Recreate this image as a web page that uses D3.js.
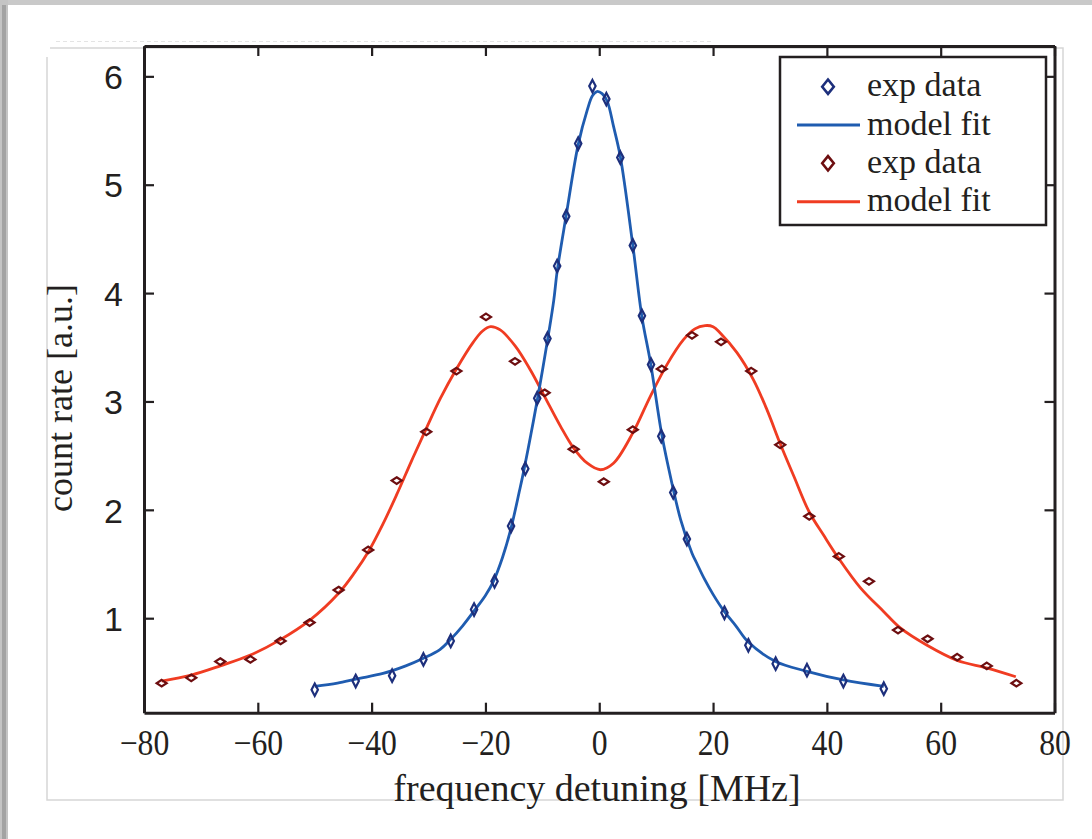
<!DOCTYPE html>
<html>
<head>
<meta charset="utf-8">
<script src="https://cdn.jsdelivr.net/npm/d3@7"></script>
<style>
  html, body { margin: 0; padding: 0; background: #fff; }
  svg { display: block; }
</style>
</head>
<body>
<div id="chart"></div>
<script>
// measured data, blue = narrow resonance, red = split resonance
var expX1 = [-50.0, -42.8, -36.4, -30.9, -26.1, -22.0, -18.4, -15.5, -13.0, -10.9, -9.1, -7.4, -5.8, -3.7, -1.2,
  1.25, 3.7, 5.9, 7.5, 9.1, 10.9, 13.0, 15.4, 22.0, 26.2, 31.0, 36.5, 42.9, 50.0];
var expY1 = [0.34, 0.42, 0.47, 0.62, 0.79, 1.08, 1.34, 1.85, 2.38, 3.03, 3.58, 4.25, 4.71, 5.38, 5.91,
  5.79, 5.25, 4.44, 3.79, 3.34, 2.68, 2.16, 1.73, 1.05, 0.75, 0.58, 0.52, 0.42, 0.35];

var expX2 = [-76.9, -71.7, -66.6, -61.3, -56.0, -50.9, -45.8, -40.6, -35.6, -30.4, -25.1, -19.9, -14.8, -9.6, -4.5,
  0.8, 5.9, 11.0, 16.3, 21.4, 26.7, 31.8, 36.9, 42.1, 47.4, 52.5, 57.7, 62.9, 68.1, 73.3];
var expY2 = [0.40, 0.45, 0.60, 0.62, 0.79, 0.96, 1.26, 1.63, 2.27, 2.72, 3.28, 3.78, 3.37, 3.08, 2.56,
  2.26, 2.74, 3.30, 3.61, 3.55, 3.28, 2.60, 1.94, 1.57, 1.34, 0.89, 0.81, 0.64, 0.56, 0.40];

// fit curves
var fitX1 = [-50, -46, -42.6, -38, -34, -30.9, -28, -26.2, -24, -22.1, -20, -18.6, -17, -15.6, -14, -13.3, -12, -10.9,
  -9.2, -8, -7.4, -5.8, -3.7, -2.1, -1.2, -0.4, 0.5, 1.4, 2.5, 3.7, 5.9, 7.5, 9.0, 10.9, 12, 14.3, 16.3, 17.2,
  18.5, 20, 22, 24, 26.2, 31, 36.5, 42.9, 50];
var fitY1 = [0.37, 0.40, 0.44, 0.49, 0.56, 0.63, 0.71, 0.80, 0.93, 1.06, 1.21, 1.34, 1.56, 1.81, 2.18, 2.35, 2.70, 3.01,
  3.53, 3.93, 4.20, 4.72, 5.37, 5.69, 5.82, 5.86, 5.84, 5.77, 5.54, 5.26, 4.44, 3.78, 3.36, 2.72, 2.43, 1.91, 1.60, 1.50,
  1.36, 1.22, 1.06, 0.93, 0.78, 0.60, 0.51, 0.43, 0.37];

var fitX2 = [-76.9, -71.7, -66.6, -61.3, -56.1, -50.9, -45.8, -43, -40.5, -38, -35.6, -33, -30.4, -27.9, -25.1, -22.1,
  -20.5, -19.1, -17.4, -14.75, -12.1, -9.6, -6.8, -4.5, -2.1, 0.2, 2.5, 5.9, 9.0, 11.9, 14.8, 16.8, 18.6, 20, 21.3,
  24.2, 27.1, 29.5, 31.8, 34.2, 36.9, 39.5, 42.1, 45.9, 50.0, 52.9, 57.6, 62.9, 68.2, 73.2];
var fitY2 = [0.42, 0.475, 0.56, 0.66, 0.80, 0.98, 1.23, 1.42, 1.62, 1.87, 2.14, 2.45, 2.75, 3.03, 3.30, 3.55,
  3.65, 3.69, 3.66, 3.51, 3.29, 3.045, 2.77, 2.57, 2.43, 2.37, 2.43, 2.71, 3.05, 3.34, 3.57, 3.67, 3.70, 3.69, 3.63,
  3.45, 3.20, 2.92, 2.61, 2.31, 1.98, 1.76, 1.55, 1.28, 1.06, 0.91, 0.75, 0.61, 0.54, 0.46];

var xTicks = [-80, -60, -40, -20, 0, 20, 40, 60, 80];
var yTicks = [1, 2, 3, 4, 5, 6];
var legendLabels = ['exp data', 'model fit', 'exp data', 'model fit'];

var width = 1092;
var height = 839;
var margin = { top: 46, right: 37.5, bottom: 126.3, left: 144 };

var ink = '#231f20';
var blueLine = '#1f5cb0', blueMark = '#1d2f7c';
var redLine = '#f03c22', redMark = '#6d0e10';

var svg = d3.select('#chart')
  .append('svg')
  .attr('width', width)
  .attr('height', height);

// page decoration (scanned page edge + card)
svg.append('rect').attr('x', 0).attr('y', 0).attr('width', width).attr('height', 5).attr('fill', '#c9c9c9');
svg.append('rect').attr('x', 0).attr('y', 0).attr('width', 8).attr('height', height).attr('fill', '#c4c4c4');
svg.append('rect').attr('x', 2).attr('y', 5).attr('width', 4).attr('height', height).attr('fill', '#a3a3a3');
svg.append('line').attr('x1', 56).attr('x2', 714).attr('y1', 41.5).attr('y2', 41.5)
  .attr('stroke', '#e4e4e4').attr('stroke-dasharray', '4,3');
svg.append('path')
  .attr('d', 'M47,57 V800 H1063 V48 H50')
  .attr('fill', 'none').attr('stroke', '#d6d6d6').attr('stroke-width', 1.5);

var x = d3.scaleLinear()
  .domain([-80, 80])
  .range([margin.left, width - margin.right]);

var y = d3.scaleLinear()
  .domain([0.128, 6.28])
  .range([height - margin.bottom, margin.top]);

var line = d3.line()
  .x(d => x(d[0]))
  .y(d => y(d[1]))
  .curve(d3.curveCatmullRom.alpha(0.5));

svg.append('path')
  .datum(d3.zip(fitX2, fitY2))
  .attr('d', line)
  .attr('fill', 'none')
  .attr('stroke', redLine)
  .attr('stroke-width', 2.8);

svg.append('path')
  .datum(d3.zip(fitX1, fitY1))
  .attr('d', line)
  .attr('fill', 'none')
  .attr('stroke', blueLine)
  .attr('stroke-width', 2.8);

function diamond(cx, cy, hw, hh) {
  return 'M' + cx + ',' + (cy - hh) + 'L' + (cx + hw) + ',' + cy +
    'L' + cx + ',' + (cy + hh) + 'L' + (cx - hw) + ',' + cy + 'Z';
}

svg.append('g')
  .selectAll('path')
  .data(d3.zip(expX2, expY2))
  .join('path')
  .attr('d', d => diamond(x(d[0]), y(d[1]), 5, 3.3))
  .attr('fill', 'none')
  .attr('stroke', redMark)
  .attr('stroke-width', 2.2);

svg.append('g')
  .selectAll('path')
  .data(d3.zip(expX1, expY1))
  .join('path')
  .attr('d', d => diamond(x(d[0]), y(d[1]), 3.2, 6.2))
  .attr('fill', 'none')
  .attr('stroke', blueMark)
  .attr('stroke-width', 2.2);

// axes, ticks pointing inward on all four sides
function styleAxis(g) {
  g.select('.domain').attr('stroke', ink).attr('stroke-width', 3);
  g.selectAll('.tick line').attr('stroke', ink).attr('stroke-width', 2.2);
}

svg.append('g')
  .attr('transform', `translate(0, ${y.range()[0]})`)
  .call(d3.axisBottom(x).tickValues(xTicks).tickSize(-10).tickSizeOuter(0)
    .tickFormat(d => d < 0 ? '\u2212' + Math.abs(d) : d))
  .call(styleAxis)
  .call(g => g.selectAll('.tick text')
    .attr('y', 42).attr('dy', 0)
    .attr('transform', 'scale(0.88,1)')
    .attr('fill', ink)
    .attr('font-family', '"Liberation Serif", "Times New Roman", serif')
    .attr('font-size', '36px'));

svg.append('g')
  .attr('transform', `translate(0, ${y.range()[1]})`)
  .call(d3.axisTop(x).tickValues(xTicks).tickSize(-10).tickSizeOuter(0).tickFormat(''))
  .call(styleAxis);

svg.append('g')
  .attr('transform', `translate(${x.range()[0]}, 0)`)
  .call(d3.axisLeft(y).tickValues(yTicks).tickSize(-10).tickSizeOuter(0).tickFormat(d3.format('d')))
  .call(styleAxis)
  .call(g => g.selectAll('.tick text')
    .attr('x', -21).attr('dy', '0.36em')
    .attr('fill', ink)
    .attr('font-family', '"Liberation Sans", Arial, sans-serif')
    .attr('font-size', '34px'));

svg.append('g')
  .attr('transform', `translate(${x.range()[1]}, 0)`)
  .call(d3.axisRight(y).tickValues(yTicks).tickSize(-10).tickSizeOuter(0).tickFormat(''))
  .call(styleAxis);

// axis titles
svg.append('text')
  .attr('x', 597)
  .attr('y', 801)
  .attr('text-anchor', 'middle')
  .attr('fill', ink)
  .attr('font-family', '"Liberation Serif", "Times New Roman", serif')
  .attr('font-size', '38px')
  .text('frequency detuning [MHz]');

svg.append('text')
  .attr('transform', 'translate(72, 398) rotate(-90)')
  .attr('text-anchor', 'middle')
  .attr('fill', ink)
  .attr('font-family', '"Liberation Serif", "Times New Roman", serif')
  .attr('font-size', '36px')
  .text('count rate [a.u.]');

// legend
var legend = svg.append('g');
legend.append('rect')
  .attr('x', 780).attr('y', 57)
  .attr('width', 266).attr('height', 168)
  .attr('fill', '#fff')
  .attr('stroke', ink)
  .attr('stroke-width', 2.5);

var rowY = [86.7, 125, 163.3, 201.7];
var kinds = ['mark', 'line', 'mark', 'line'];
var colors = [blueMark, blueLine, redMark, redLine];

legend.selectAll('.item')
  .data(legendLabels)
  .join('g')
  .each(function (d, i) {
    var g = d3.select(this);
    if (kinds[i] === 'mark') {
      g.append('path')
        .attr('d', diamond(828, rowY[i], 5.8, 7.2))
        .attr('fill', 'none')
        .attr('stroke', colors[i])
        .attr('stroke-width', 2.6);
    } else {
      g.append('line')
        .attr('x1', 797).attr('x2', 860)
        .attr('y1', rowY[i]).attr('y2', rowY[i])
        .attr('stroke', colors[i])
        .attr('stroke-width', 3);
    }
    g.append('text')
      .attr('x', 867)
      .attr('y', rowY[i] + 9.5)
      .attr('fill', ink)
      .attr('font-family', '"Liberation Serif", "Times New Roman", serif')
      .attr('font-size', '34px')
      .text(d);
  });
</script>
</body>
</html>
